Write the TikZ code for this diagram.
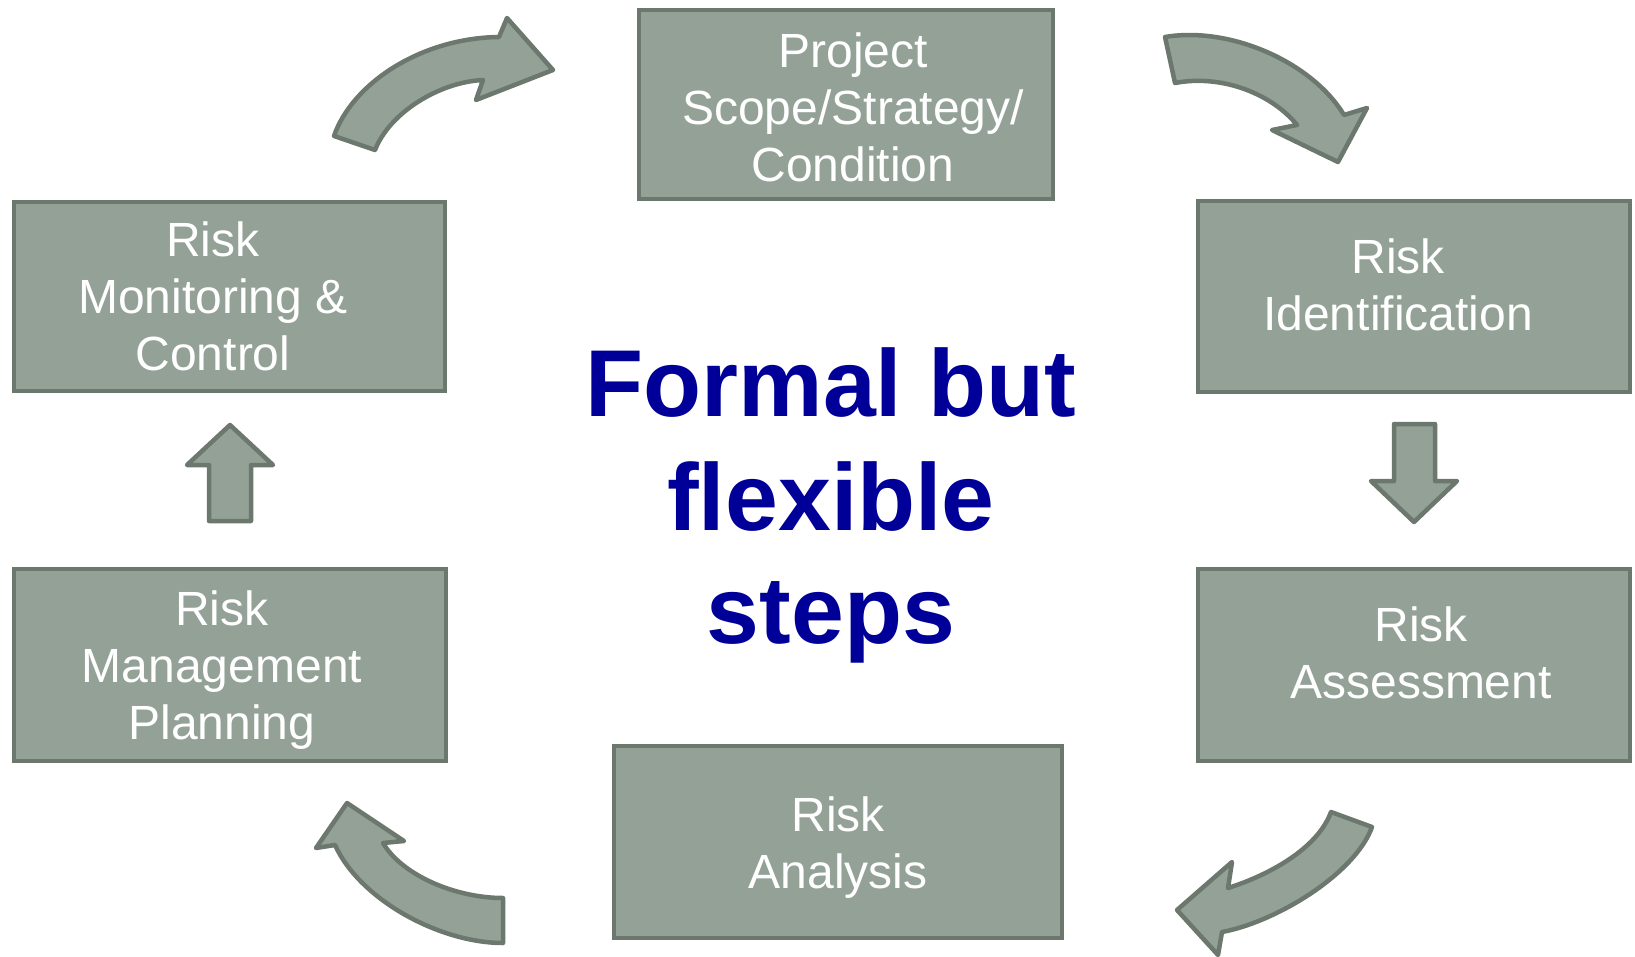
\documentclass[tikz,border=0pt]{standalone}
\usepackage{fontspec}
\setmainfont{Liberation Sans}
\definecolor{boxfill}{RGB}{147,161,151}
\definecolor{boxline}{RGB}{108,119,110}
\definecolor{navyblue}{RGB}{0,0,153}

\begin{document}
\begin{tikzpicture}[x=1pt, y=-1pt,
  stepbox/.style={draw=boxline, fill=boxfill, line width=4.5pt},
  blockarrow/.style={draw=boxline, fill=boxfill, line width=4.5pt, line join=round},
  steptext/.style={text=white, align=center, inner sep=0pt, font=\fontsize{48pt}{57pt}\selectfont},
  bigtext/.style={text=navyblue, align=center, inner sep=0pt, font=\fontsize{95pt}{113.5pt}\selectfont\bfseries}]

  % Fix the canvas to the size of the slide
  \useasboundingbox (0,0) rectangle (1635,957);

  % Draw the six boxes of the cycle
  \draw[stepbox] (639,10) rectangle (1053,199);
  \draw[stepbox] (1198,201) rectangle (1630,392);
  \draw[stepbox] (1198,569) rectangle (1630,761);
  \draw[stepbox] (614,746) rectangle (1062,938);
  \draw[stepbox] (14,569) rectangle (446,761);
  \draw[stepbox] (14,202) rectangle (445,391);

  % Step names inside the boxes
  \node[steptext] (scope) at (853,107.5) {Project\\Scope/Strategy/\\Condition};
  \node[steptext] (ident) at (1398,285.2) {Risk\\Identification};
  \node[steptext] (assess) at (1421,653.2) {Risk\\Assessment};
  \node[steptext] (analysis) at (838,847.5) {Risk\\Analysis};
  \node[steptext] (planning) at (222,670.4) {Risk\\Management\\Planning};
  \node[steptext] (monitor) at (213,296.8) {Risk\\Monitoring \&\\Control};

  % Slogan in the middle
  \node[bigtext] (slogan) at (831,505.5) {Formal but\\flexible\\steps};

  % Straight block arrows (down on the right, up on the left)
  \draw[blockarrow] (1394,424) -- (1435,424) -- (1435,481) -- (1457,481) -- (1414,522) -- (1371,481) -- (1394,481) -- cycle;
  \draw[blockarrow] (209,521) -- (251,521) -- (251,465) -- (273,465) -- (230,425) -- (187,465) -- (209,465) -- cycle;

  % Curved block arrows at the corners
  \draw[blockarrow] (334,136) .. controls (352,84) and (420,38) .. (499,37) -- (507,18) -- (553,70) -- (476,100) -- (483,80) .. controls (440,82) and (390,112) .. (375,150) -- cycle;
  \draw[blockarrow] (1165,37) .. controls (1230,26) and (1312,62) .. (1344,115) -- (1367,108) -- (1338,162) -- (1272,130) -- (1297,125) .. controls (1272,94) and (1222,74) .. (1175,83) -- cycle;
  \draw[blockarrow] (1372,827) .. controls (1355,874) and (1276,922) .. (1222,932) -- (1218,955) -- (1177,910) -- (1232,862) -- (1228,888) .. controls (1266,876) and (1317,850) .. (1331,812) -- cycle;
  \draw[blockarrow] (503,943) .. controls (440,943) and (360,900) .. (335,845) -- (316,848) -- (347,803) -- (404,841) -- (383,843) .. controls (402,875) and (455,898) .. (503,898) -- cycle;

\end{tikzpicture}
\end{document}
